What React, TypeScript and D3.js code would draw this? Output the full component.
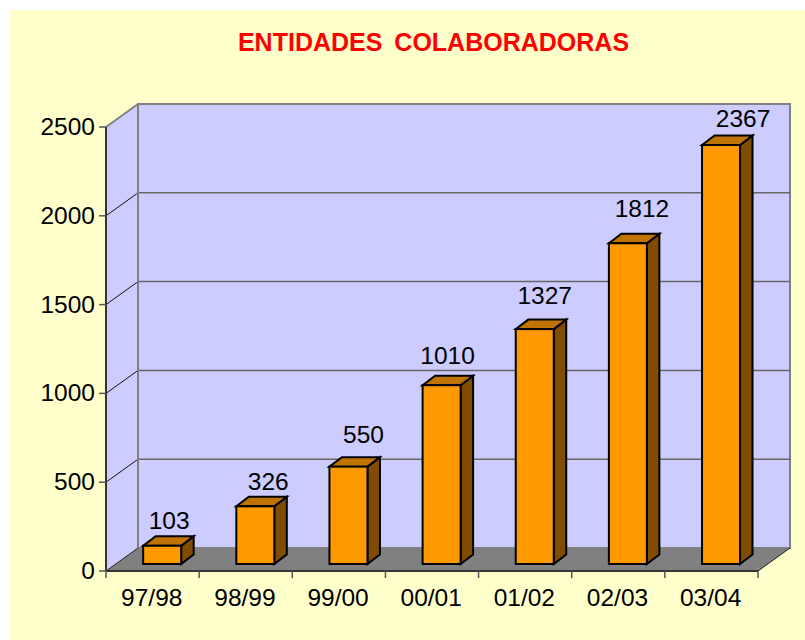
import React from "react";
import * as d3 from "d3";

const categories = ["97/98", "98/99", "99/00", "00/01", "01/02", "02/03", "03/04"];
const values = [103, 326, 550, 1010, 1327, 1812, 2367];
const yTicks = [0, 500, 1000, 1500, 2000, 2500];
const title = "ENTIDADES COLABORADORAS";

const FONT = "'Liberation Sans', Arial, sans-serif";
const W = 805, H = 640;
const left = 106, right = 758, bottom = 571, top = 127;
const depthX = 32, depthY = 23;
const barOffX = 9.6, barOffY = 7, barDepthX = 12.5, barDepthY = 9.5;
// Excel's hand-placed data label offsets relative to the bar front
const labelDx = [7, 13, 15, 6, 10, 14, 22];
const labelDy = [17, 16, 23, 21, 24, 25, 17];

export default function App() {
  const x = d3.scaleBand<string>().domain(categories).range([left, right]).paddingInner(0.592).paddingOuter(0.296);
  const y = d3.scaleLinear().domain([0, 2500]).range([bottom, top]);
  // bars sit on a very slightly shallower scale than the wall, as in the reference
  const yBar = d3.scaleLinear().domain([0, 2500]).range([bottom, top + 1.5]);
  const bw = x.bandwidth();
  const step = x.step();
  const tickXs = d3.range(categories.length + 1).map((i) => left + i * step);
  const pts = (p: [number, number][]) => p.map((q) => q.join(",")).join(" ");

  return (
    <svg width={W} height={H} viewBox={`0 0 ${W} ${H}`} style={{ position: "absolute", left: 0, top: 0, background: "#fff" }} fontFamily={FONT}>
      <rect x={10} y={10} width={W - 10} height={H - 10} fill="#FFFFCC" />
      <text x={433.5} y={51} textAnchor="middle" fontSize={25} fontWeight="bold" wordSpacing={5} fill="#FF0000">{title}</text>

      {/* walls */}
      <polygon points={pts([[left, top], [left + depthX, top - depthY], [left + depthX, bottom - depthY], [left, bottom]])} fill="#CCCCFF" />
      <rect x={left + depthX} y={top - depthY} width={right - left} height={bottom - top} fill="#CCCCFF" stroke="#808080" strokeWidth={2} />
      <polygon points={pts([[left, bottom], [left + depthX, bottom - depthY], [right + depthX, bottom - depthY], [right, bottom]])} fill="#808080" />

      {/* grid */}
      {yTicks.slice(1, -1).map((t) => (
        <g key={t}>
          <line x1={left + depthX} x2={right + depthX} y1={y(t) - depthY} y2={y(t) - depthY} stroke="#666666" strokeWidth={1.5} />
          <line x1={left} x2={left + depthX} y1={y(t)} y2={y(t) - depthY} stroke="#111111" strokeWidth={1} />
        </g>
      ))}
      <line x1={left} x2={left + depthX} y1={top} y2={top - depthY} stroke="#808080" strokeWidth={2} />
      <line x1={left} x2={left + depthX} y1={bottom} y2={bottom - depthY} stroke="#222222" strokeWidth={1} />
      <line x1={right} x2={right + depthX} y1={bottom} y2={bottom - depthY} stroke="#222222" strokeWidth={1} />
      <line x1={left + depthX} x2={left + depthX} y1={top - depthY} y2={bottom - depthY} stroke="#808080" strokeWidth={2} />

      {/* axes */}
      <line x1={left} x2={left} y1={top} y2={bottom} stroke="#333333" strokeWidth={2} />
      <line x1={left} x2={right} y1={bottom} y2={bottom} stroke="#333333" strokeWidth={2} />
      {yTicks.map((t) => (
        <g key={t}>
          <line x1={left - 7} x2={left} y1={y(t)} y2={y(t)} stroke="#555555" strokeWidth={1.5} />
          <text x={95} y={y(t) + 8} textAnchor="end" fontSize={24.5} fill="#000">{t}</text>
        </g>
      ))}
      {tickXs.map((tx) => (
        <line key={tx} x1={tx} x2={tx} y1={bottom} y2={bottom + 7} stroke="#555555" strokeWidth={1.5} />
      ))}
      {categories.map((c) => (
        <text key={c} x={(x(c) as number) + bw / 2 - 0.8} y={606} textAnchor="middle" fontSize={24.5} fill="#000">{c}</text>
      ))}

      {/* bars */}
      {categories.map((c, i) => {
        const bx = (x(c) as number) + barOffX;
        const by = yBar(0) - barOffY;
        const ty = yBar(values[i]) - barOffY;
        return (
          <g key={c} stroke="#000" strokeWidth={2} strokeLinejoin="miter">
            <polygon points={pts([[bx + bw, ty], [bx + bw + barDepthX, ty - barDepthY], [bx + bw + barDepthX, by - barDepthY], [bx + bw, by]])} fill="#7F4C00" />
            <polygon points={pts([[bx, ty], [bx + barDepthX, ty - barDepthY], [bx + bw + barDepthX, ty - barDepthY], [bx + bw, ty]])} fill="#BF7300" />
            <rect x={bx} y={ty} width={bw} height={by - ty} fill="#FF9900" />
          </g>
        );
      })}
      {categories.map((c, i) => (
        <text key={c} x={(x(c) as number) + barOffX + bw / 2 + labelDx[i]} y={y(values[i]) - barOffY - labelDy[i]} textAnchor="middle" fontSize={24.5} fill="#000">{values[i]}</text>
      ))}
    </svg>
  );
}
